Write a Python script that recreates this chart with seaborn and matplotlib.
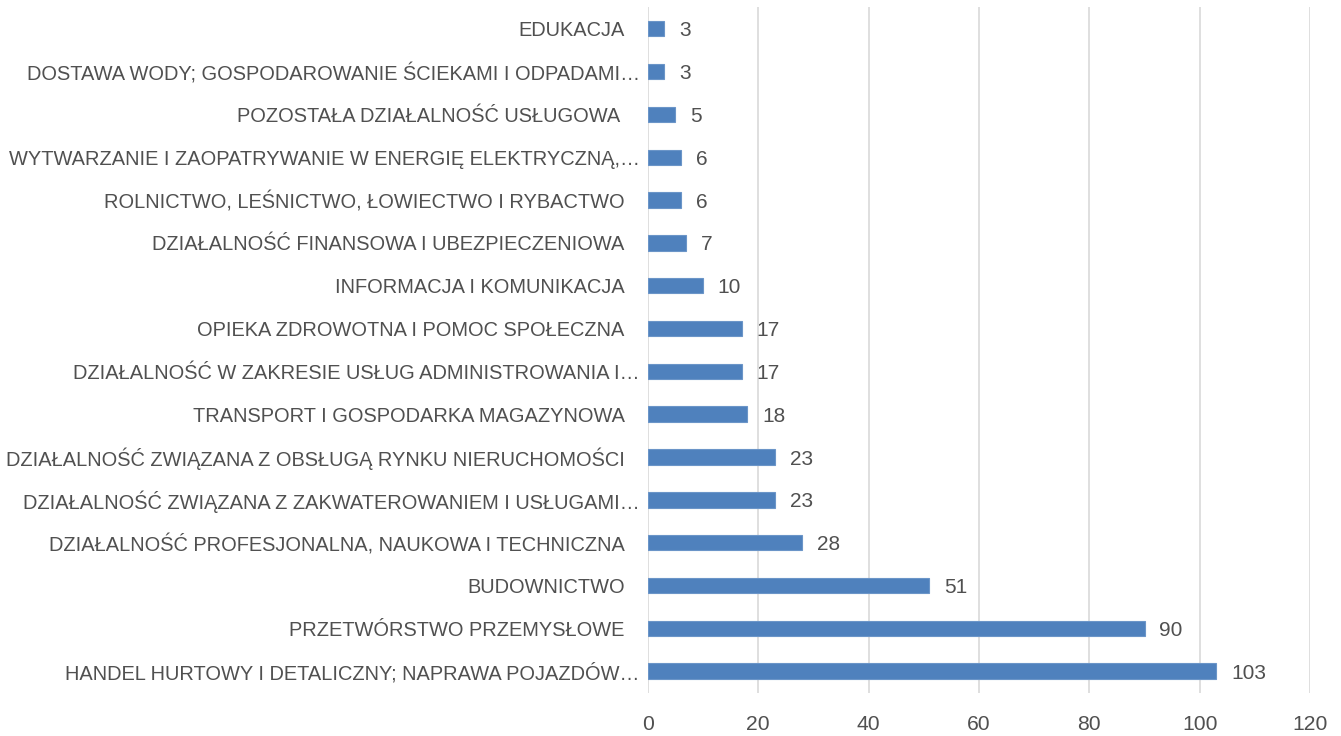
import seaborn as sns
import matplotlib.pyplot as plt
import pandas as pd

categories = [
    "EDUKACJA",
    "DOSTAWA WODY; GOSPODAROWANIE ŚCIEKAMI I ODPADAMI…",
    "POZOSTAŁA DZIAŁALNOŚĆ USŁUGOWA ",
    "WYTWARZANIE I ZAOPATRYWANIE W ENERGIĘ ELEKTRYCZNĄ,…",
    "ROLNICTWO, LEŚNICTWO, ŁOWIECTWO I RYBACTWO",
    "DZIAŁALNOŚĆ FINANSOWA I UBEZPIECZENIOWA",
    "INFORMACJA I KOMUNIKACJA",
    "OPIEKA ZDROWOTNA I POMOC SPOŁECZNA",
    "DZIAŁALNOŚĆ W ZAKRESIE USŁUG ADMINISTROWANIA I…",
    "TRANSPORT I GOSPODARKA MAGAZYNOWA",
    "DZIAŁALNOŚĆ ZWIĄZANA Z OBSŁUGĄ RYNKU NIERUCHOMOŚCI",
    "DZIAŁALNOŚĆ ZWIĄZANA Z ZAKWATEROWANIEM I USŁUGAMI…",
    "DZIAŁALNOŚĆ PROFESJONALNA, NAUKOWA I TECHNICZNA",
    "BUDOWNICTWO",
    "PRZETWÓRSTWO PRZEMYSŁOWE",
    "HANDEL HURTOWY I DETALICZNY; NAPRAWA POJAZDÓW…",
]
values = [3, 3, 5, 6, 6, 7, 10, 17, 17, 18, 23, 23, 28, 51, 90, 103]
x_ticks = [0, 20, 40, 60, 80, 100, 120]

df = pd.DataFrame({"branza": categories, "liczba": values})

sns.set_style("white")
plt.rcParams['font.family'] = ['Liberation Sans', 'DejaVu Sans']
text_color = "#505050"
fs = 14.4

fig = plt.figure(figsize=(13.41, 7.36), dpi=100)
ax = fig.add_axes([0.483, 0.059, 0.494, 0.931])

sns.barplot(data=df, x="liczba", y="branza", color="#4F81BD", width=0.36,
            edgecolor="#6B95C8", linewidth=0.8, saturation=1, ax=ax)

# value labels
for i, v in enumerate(values):
    ax.text(v + 2.7, i, str(v), va="center_baseline", ha="left", fontsize=fs + 0.6, color=text_color)

# category labels (truncated ones sit a bit closer to the axis)
ax.set_yticklabels([])
for i, lab in enumerate(categories):
    xpos = -0.012 if lab.endswith("…") else -0.035
    ax.text(xpos, i, lab, transform=ax.get_yaxis_transform(), ha="right",
            va="center_baseline", fontsize=fs, color=text_color)

ax.set_xlim(0, 120)
ax.set_xticks(x_ticks)
ax.set_xlabel("")
ax.set_ylabel("")
ax.grid(axis="x", color="#D9D9D9", linewidth=1.2)
ax.set_axisbelow(True)
for s in ax.spines.values():
    s.set_visible(False)
ax.tick_params(axis="x", length=0, pad=16, labelsize=fs + 0.8, labelcolor=text_color)
ax.tick_params(axis="y", length=0)

fig.savefig("out.png", dpi=100)
